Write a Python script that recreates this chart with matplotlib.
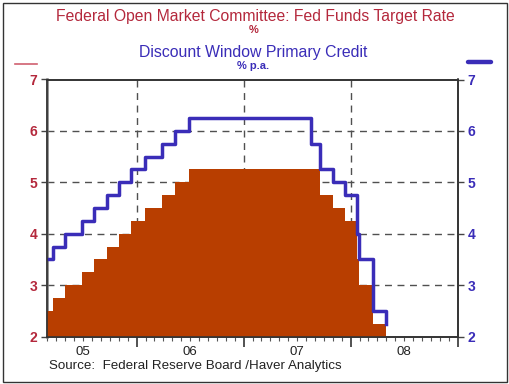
import matplotlib
matplotlib.use('Agg')
import matplotlib.pyplot as plt
import matplotlib.dates as mdates
from matplotlib.lines import Line2D
from matplotlib.patches import Rectangle
import matplotlib.transforms as mtransforms
import pandas as pd

plt.rcParams['font.family'] = ['Liberation Sans', 'DejaVu Sans']

# Fed funds target rate changes (%)
ff_dates = ['2005-02-02', '2005-03-22', '2005-05-03', '2005-06-30', '2005-08-09',
            '2005-09-20', '2005-11-01', '2005-12-13', '2006-01-31', '2006-03-28',
            '2006-05-10', '2006-06-29', '2007-09-18', '2007-10-31', '2007-12-11',
            '2008-01-22', '2008-01-30', '2008-03-18', '2008-04-30']
ff_rates = [2.5, 2.75, 3.0, 3.25, 3.5, 3.75, 4.0, 4.25, 4.5, 4.75,
            5.0, 5.25, 4.75, 4.5, 4.25, 3.5, 3.0, 2.25, 2.0]

# Discount window primary credit rate changes (% p.a.)
pc_dates = ['2005-02-02', '2005-03-22', '2005-05-03', '2005-06-30', '2005-08-09',
            '2005-09-20', '2005-11-01', '2005-12-13', '2006-01-31', '2006-03-28',
            '2006-05-10', '2006-06-29', '2007-08-17', '2007-09-18', '2007-10-31',
            '2007-12-11', '2008-01-22', '2008-01-30', '2008-03-16', '2008-03-18',
            '2008-04-30']
pc_rates = [3.5, 3.75, 4.0, 4.25, 4.5, 4.75, 5.0, 5.25, 5.5, 5.75, 6.0, 6.25,
            5.75, 5.25, 5.0, 4.75, 4.0, 3.5, 3.25, 2.5, 2.25]

year_labels = ['05', '06', '07', '08']
label_years = [2005, 2006, 2007, 2008]

red = '#B4283C'
blue = '#3A2DB8'
orange = '#B83E00'
grid_col = '#505050'

ffx = mdates.date2num(pd.to_datetime(ff_dates))
pcx = mdates.date2num(pd.to_datetime(pc_dates))

fig = plt.figure(figsize=(5.1, 3.84), dpi=100)
ax = fig.add_axes([47/510, 1 - 336.5/384, (458 - 47)/510, (336.5 - 79.5)/384])

ax.fill_between(ffx, 2, ff_rates, step='post', color=orange, lw=0, zorder=3)
ax.step(pcx, pc_rates, where='post', color=blue, lw=2.5, zorder=4)

ax.set_ylim(2, 7)
ax.set_xlim(mdates.datestr2num('2005-03-01'), mdates.datestr2num('2009-01-01'))

# grid
for y in [3, 4, 5, 6]:
    ax.axhline(y, color=grid_col, lw=1, ls=(0, (5, 4)), zorder=1)
for yr in [2006, 2007, 2008]:
    ax.axvline(mdates.datestr2num(f'{yr}-01-01'), color=grid_col, lw=1, ls=(0, (5, 4)), zorder=1)

ax.xaxis.set_major_locator(mdates.YearLocator())
ax.xaxis.set_minor_locator(mdates.MonthLocator())
ax.xaxis.set_major_formatter(plt.NullFormatter())
ax.tick_params(axis='x', which='major', direction='out', length=7, width=1.2, color='#333333')
ax.tick_params(axis='x', which='minor', direction='out', length=3, width=0.8, color='#555555')

trans = mtransforms.blended_transform_factory(ax.transData, ax.transAxes)
for yr, lab in zip(label_years, year_labels):
    ax.text(mdates.datestr2num(f'{yr}-07-02'), -0.06, lab, transform=trans,
            ha='center', va='center', fontsize=9.5, color='#222222')

ax.set_yticks([2, 3, 4, 5, 6, 7])
ax.tick_params(axis='y', direction='out', length=4, width=1, color='#444444',
               labelcolor=red, labelsize=10, pad=3)
for t in ax.get_yticklabels():
    t.set_fontweight('bold')

ax2 = ax.twinx()
ax2.set_ylim(2, 7)
ax2.set_yticks([2, 3, 4, 5, 6, 7])
ax2.tick_params(axis='y', direction='out', length=4, width=1, color='#444444',
                labelcolor=blue, labelsize=10, pad=3)
for t in ax2.get_yticklabels():
    t.set_fontweight('bold')

for a in (ax, ax2):
    for s in a.spines.values():
        s.set_color('#333333')
        s.set_linewidth(1.2)
ax.spines['left'].set_color('#777777')
ax.spines['left'].set_linewidth(1.8)

# titles
fig.text(0.5, 1 - 17/384, 'Federal Open Market Committee: Fed Funds Target Rate',
         ha='center', va='center', fontsize=11.3, color=red)
fig.text(0.497, 1 - 30/384, '%', ha='center', va='center', fontsize=8, color=red, fontweight='bold')
fig.text(0.497, 1 - 53/384, 'Discount Window Primary Credit',
         ha='center', va='center', fontsize=11.4, color=blue)
fig.text(0.497, 1 - 66/384, '% p.a.', ha='center', va='center', fontsize=8, color=blue, fontweight='bold')

# legend markers
fig.add_artist(Line2D([15/510, 37/510], [1 - 64/384] * 2, color='#D06070', lw=1.2))
fig.add_artist(Line2D([468/510, 491/510], [1 - 62/384] * 2, color=blue, lw=3.2,
                      solid_capstyle='round'))

fig.text(49/510, 1 - 366/384, 'Source:  Federal Reserve Board /Haver Analytics',
         ha='left', va='center', fontsize=9.6, color='#222222')

fig.add_artist(Rectangle((3/510, 2/384), 504/510, 379/384, fill=False,
                         ec='#333333', lw=1, transform=fig.transFigure))

fig.savefig('out.png', dpi=100)
